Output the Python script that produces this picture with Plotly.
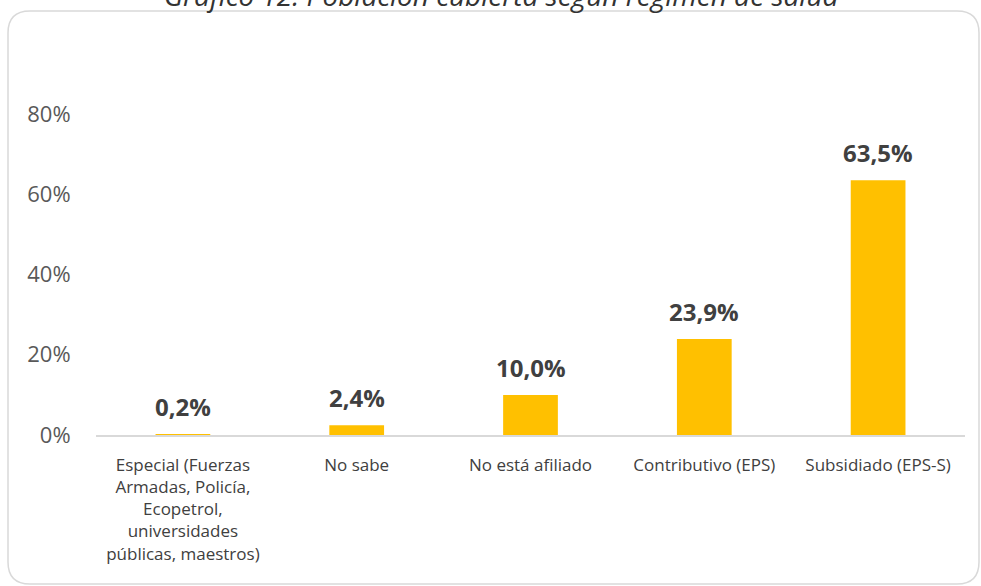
import plotly.graph_objects as go

categories = [
    "Especial (Fuerzas<br>Armadas, Policía,<br>Ecopetrol,<br>universidades<br>públicas, maestros)",
    "No sabe",
    "No está afiliado",
    "Contributivo (EPS)",
    "Subsidiado (EPS-S)",
]
values = [0.002, 0.024, 0.100, 0.239, 0.635]
value_labels = ["0,2%", "2,4%", "10,0%", "23,9%", "63,5%"]
y_ticks = [0, 0.2, 0.4, 0.6, 0.8]
y_tick_labels = ["0%", "20%", "40%", "60%", "80%"]
title_text = "Gráfico 12. Población cubierta según régimen de salud"

W, H = 981, 586
L, R, T, B = 96, 965, 114, 435

def px_x(p):
    return (p - L) / (R - L)

def px_y(p):
    return (B - p) / (B - T)

fig = go.Figure()
fig.add_trace(go.Bar(
    x=categories, y=values,
    marker=dict(color="#FFC000", line=dict(width=0)),
    hoverinfo="skip",
))

for c, v, t in zip(categories, values, value_labels):
    fig.add_annotation(
        x=c, y=v, xref="x", yref="y", text=f"<b>{t}</b>",
        showarrow=False, yanchor="bottom", yshift=9,
        font=dict(family="Open Sans", size=24, color="#404040"),
    )

fig.add_annotation(
    x=px_x(502), y=px_y(-5), xref="paper", yref="paper",
    text=f"<i>{title_text}</i>", showarrow=False,
    xanchor="center", yanchor="middle",
    font=dict(family="Open Sans", size=28, color="#333333"),
)

# rounded border box
x0, x1, y0, y1, r = 8, 979, 11, 584, 22
path = (
    f"M {px_x(x0 + r)},{px_y(y0)} L {px_x(x1 - r)},{px_y(y0)} "
    f"Q {px_x(x1)},{px_y(y0)} {px_x(x1)},{px_y(y0 + r)} "
    f"L {px_x(x1)},{px_y(y1 - r)} "
    f"Q {px_x(x1)},{px_y(y1)} {px_x(x1 - r)},{px_y(y1)} "
    f"L {px_x(x0 + r)},{px_y(y1)} "
    f"Q {px_x(x0)},{px_y(y1)} {px_x(x0)},{px_y(y1 - r)} "
    f"L {px_x(x0)},{px_y(y0 + r)} "
    f"Q {px_x(x0)},{px_y(y0)} {px_x(x0 + r)},{px_y(y0)} Z"
)
fig.add_shape(type="path", path=path, xref="paper", yref="paper",
              line=dict(color="#D9D9D9", width=1.5), layer="below")

fig.update_layout(
    width=W, height=H,
    margin=dict(l=L, r=W - R, t=T, b=H - B, pad=0),
    paper_bgcolor="white", plot_bgcolor="white",
    showlegend=False, bargap=0.685,
    font=dict(family="Open Sans", color="#404040"),
)
fig.update_xaxes(
    showgrid=False, showline=True, linecolor="#D9D9D9", linewidth=1.5,
    ticks="outside", ticklen=14, tickcolor="rgba(0,0,0,0)",
    tickfont=dict(family="Open Sans", size=17, color="#404040"),
    zeroline=False, fixedrange=True,
)
fig.update_yaxes(
    range=[0, 0.8], tickvals=y_ticks, ticktext=y_tick_labels,
    showgrid=False, showline=False, zeroline=False,
    ticks="outside", ticklen=20, tickcolor="rgba(0,0,0,0)",
    tickfont=dict(family="Open Sans", size=22, color="#595959"),
    fixedrange=True,
)

fig.write_html(
    "out.html",
    config={"displayModeBar": False},
    post_script="document.body.style.margin='0';document.body.style.overflow='hidden';",
)
